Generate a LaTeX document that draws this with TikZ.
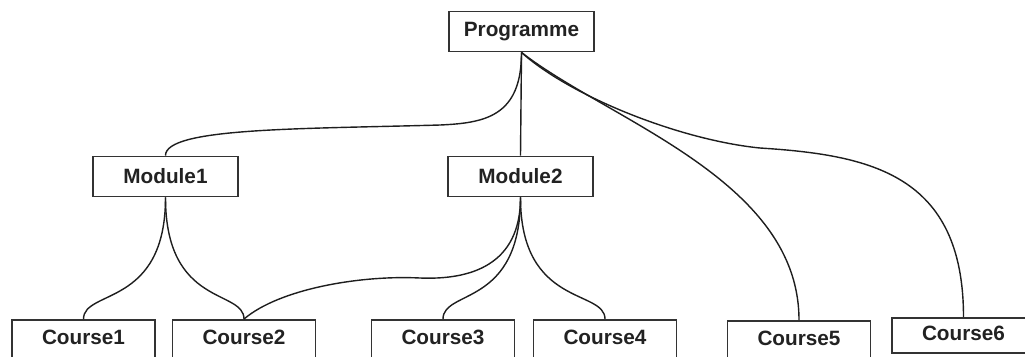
\documentclass[tikz,border=0pt]{standalone}
\usepackage{fontspec}
\setmainfont{Liberation Sans}
\usetikzlibrary{positioning}
\definecolor{BoxGray}{HTML}{333333}
\definecolor{LinkGray}{HTML}{1E1E1E}
\definecolor{TextGray}{HTML}{222222}

\begin{document}
\begin{tikzpicture}[x=0.02cm,y=-0.02cm,every node/.style={font=\fontsize{11.8}{14}\selectfont\bfseries, text=TextGray, align=center}]
        \path[use as bounding box, clip] (0,0) rectangle (1025,356);
        \tikzset{unit/.style={draw=BoxGray, line width=1.1pt, fill=white, inner sep=0pt, minimum width=2.9cm, minimum height=0.8cm},
                 course/.style={unit, minimum width=2.86cm, text height=8.6pt, text depth=3.2pt},
                 link/.style={draw=LinkGray, line width=0.8pt}}
        \node[unit] (prog) at (521.5,31.5) {Programme};
        \node[unit] (mod1) at (165.5,176.5) {Module1};
        \node[unit] (mod2) at (520.5,176.5) {Module2};
        \node[course] (c1) at (83.5,340) {Course1};
        \node[course] (c2) at (244,340) {Course2};
        \node[course] (c3) at (443,340) {Course3};
        \node[course] (c4) at (605,340) {Course4};
        \node[course] (c5) at (799,341) {Course5};
        \node[course, minimum height=0.7cm] (c6) at (963.5,335.5) {Course6};
        % programme level
        \draw[link] (prog.south) .. controls +(0,64) and +(45,-2) .. (440,125)
                    .. controls +(-140,4) and +(0,-28) .. (mod1.north);
        \draw[link] (prog.south) -- (mod2.north);
        \draw[link] (prog.south) .. controls +(89,69) and +(0,-140) .. (c5.north);
        \draw[link] (prog.south) .. controls +(49,44) and +(-80,-8) .. (760,148)
                    .. controls +(110,7) and +(0,-143) .. (c6.north);
        % module level
        \draw[link] (mod1.south) .. controls +(0,110) and +(0,-30) .. (c1.north);
        \draw[link] (mod1.south) .. controls +(0,110) and +(0,-30) .. (c2.north);
        \draw[link] (mod2.south) .. controls +(0,68) and +(50,2) .. (420,278)
                    .. controls +(-60,-3) and +(35,-30) .. (c2.north);
        \draw[link] (mod2.south) .. controls +(0,110) and +(0,-30) .. (c3.north);
        \draw[link] (mod2.south) .. controls +(0,110) and +(0,-30) .. (c4.north);
\end{tikzpicture}
\end{document}
